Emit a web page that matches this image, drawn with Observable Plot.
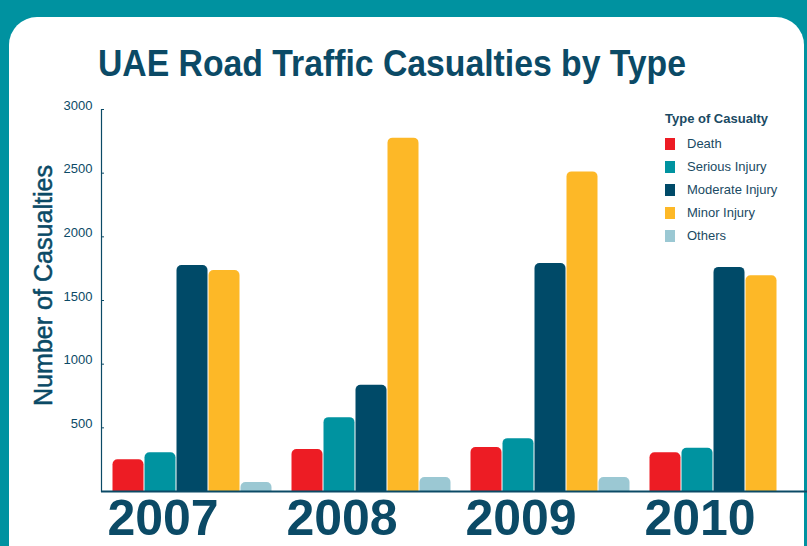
<!DOCTYPE html>
<html>
<head>
<meta charset="utf-8">
<script src="https://cdn.jsdelivr.net/npm/d3@7"></script>
<script src="https://cdn.jsdelivr.net/npm/@observablehq/plot@0.6"></script>
<style>
  html, body { margin: 0; padding: 0; overflow: hidden; }
  #root { position: relative; width: 807px; height: 546px; overflow: hidden; background: #0092a0; font-family: "Liberation Sans", Arial, sans-serif; }
  #card { position: absolute; left: 9px; top: 17px; width: 795px; height: 620px; background: #fff; border-radius: 28px; }
  #chart { position: absolute; left: 0; top: 0; width: 817px; line-height: 0; }
  #chart svg { display: block; max-width: none !important; width: 817px; height: 546px; }
  #overlay { position: absolute; left: 0; top: 0; }
  #legend { position: absolute; left: 665px; top: 111px; color: #1a4a63; }
  #legend .lt { font-size: 13px; font-weight: bold; margin-bottom: 6px; }
  #legend .row { display: flex; align-items: center; height: 23px; font-size: 13px; }
  #legend .sw { width: 10px; height: 12px; margin-right: 12px; }
</style>
</head>
<body>
<div id="root">
  <div id="card"></div>
  <div id="chart"></div>
  <svg id="overlay" width="807" height="546"></svg>
  <div id="legend"></div>
</div>
<script>
const years = ["2007", "2008", "2009", "2010"];
const types = ["Death", "Serious Injury", "Moderate Injury", "Minor Injury", "Others"];
const death    = [250, 330, 345, 305];
const serious  = [305, 580, 415, 340];
const moderate = [1775, 835, 1790, 1760];
const minor    = [1735, 2775, 2510, 1695];
const others   = [70, 110, 110, null];
const colors = ["#ed1c24", "#0093a0", "#004a68", "#fdb827", "#9bc8d3"];
const yTicks = [500, 1000, 1500, 2000, 2500, 3000];
const title = "UAE Road Traffic Casualties by Type";
const yLabel = "Number of Casualties";

const navy = "#0b4a66";
const series = [death, serious, moderate, minor, others];
const rows = [];
years.forEach((yr, i) => {
  types.forEach((t, j) => {
    const v = series[j][i];
    if (v != null) rows.push({year: yr, type: t, value: v});
  });
});

const plot = Plot.plot({
  width: 817,
  height: 546,
  marginLeft: 100,
  marginRight: 0,
  marginTop: 109,
  marginBottom: 55,
  facet: {marginTop: 0, marginBottom: 0, marginLeft: 0, marginRight: 0},
  style: {background: "transparent", fontFamily: "'Liberation Sans', Arial, sans-serif", color: navy, overflow: "visible"},
  fx: {domain: years, padding: 0},
  x: {domain: types, paddingInner: 0, paddingOuter: 0.277, align: 0.6, axis: null},
  y: {domain: [0, 3000], axis: null},
  color: {domain: types, range: colors},
  marks: [
    Plot.barY(rows, {fx: "year", x: "type", y: "value", fill: "type", rx: 5, insetBottom: -12, insetLeft: 0.5, insetRight: 0.5, clip: true}),
    Plot.ruleY([0], {stroke: navy, strokeWidth: 2}),
    Plot.frame({anchor: "left", facetAnchor: "left", stroke: navy, strokeWidth: 1.2}),
    Plot.axisY(yTicks, {anchor: "left", facetAnchor: "left", tickSize: 0, tickPadding: 9, dy: -4, fontSize: 13, fill: navy, tickFormat: d => String(d), label: null}),
    Plot.axisY(yTicks, {anchor: "left", facetAnchor: "left", tickSize: 3, dx: 3, tickFormat: () => "", label: null, stroke: navy}),
    Plot.axisFx({anchor: "bottom", tickSize: 0, tickPadding: 8, dx: -28, fontSize: 50, fontWeight: "bold", fill: navy, label: null})
  ]
});
document.getElementById("chart").appendChild(plot);

// Title and y label
const ov = d3.select("#overlay");
ov.append("text")
  .attr("x", 98).attr("y", 76)
  .attr("font-family", "'Liberation Sans', Arial, sans-serif")
  .attr("font-weight", "bold").attr("font-size", 36)
  .attr("fill", navy)
  .attr("textLength", 588).attr("lengthAdjust", "spacingAndGlyphs")
  .text(title);
ov.append("text")
  .attr("transform", "translate(52,285.5) rotate(-90)")
  .attr("text-anchor", "middle")
  .attr("font-family", "'Liberation Sans', Arial, sans-serif")
  .attr("font-size", 25)
  .attr("fill", navy)
  .attr("stroke", navy).attr("stroke-width", 0.5)
  .attr("textLength", 241).attr("lengthAdjust", "spacingAndGlyphs")
  .text(yLabel);

// Legend from the plot's color scale
const cs = plot.scale("color");
const lg = d3.select("#legend");
lg.append("div").attr("class", "lt").text("Type of Casualty");
cs.domain.forEach((t, i) => {
  const r = lg.append("div").attr("class", "row");
  r.append("div").attr("class", "sw").style("background", cs.range[i]);
  r.append("span").text(t);
});
</script>
</body>
</html>
